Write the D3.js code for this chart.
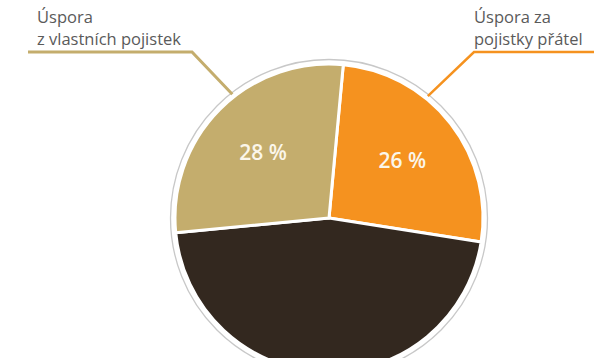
<!DOCTYPE html>
<html>
<head>
<meta charset="utf-8">
<script src="https://cdn.jsdelivr.net/npm/d3@7/dist/d3.min.js"></script>
<style>
  html, body { margin: 0; padding: 0; background: #fff; }
  svg { display: block; }
</style>
</head>
<body>
<svg id="chart" width="594" height="358"></svg>
<script>
// Slice data, clockwise from the orange slice near the top
const categories = ["Úspora za pojistky přátel", "Ostatní", "Úspora z vlastních pojistek"];
const values = [26, 46, 28];
const valueLabels = ["26 %", "", "28 %"];
const colors = ["#f5921f", "#33281f", "#c4ad6d"];
// Callout text lines for the labelled slices
const calloutLeft = ["Úspora", "z vlastních pojistek"];
const calloutRight = ["Úspora za", "pojistky přátel"];

const svg = d3.select("#chart");
const cx = 329, cy = 218, r = 154;
const startAngle = 0.093;

const pie = d3.pie().sort(null).value(d => d)
  .startAngle(startAngle).endAngle(startAngle + 2 * Math.PI);
const arcs = pie(values);
const arc = d3.arc().innerRadius(0).outerRadius(r);
const labelArc = d3.arc().innerRadius(93).outerRadius(93);

const g = svg.append("g").attr("transform", `translate(${cx},${cy})`);

// thin grey rim around the pie
g.append("circle").attr("r", r + 4.5)
  .attr("fill", "none").attr("stroke", "#c8c8c8").attr("stroke-width", 1.3);

g.selectAll("path.slice").data(arcs).join("path")
  .attr("class", "slice")
  .attr("d", arc)
  .attr("fill", (d, i) => colors[i])
  .attr("stroke", "#fff")
  .attr("stroke-width", 3)
  .attr("stroke-linejoin", "round");

g.selectAll("text.val").data(arcs).join("text")
  .attr("class", "val")
  .attr("transform", d => `translate(${labelArc.centroid(d)})`)
  .attr("text-anchor", "middle")
  .attr("dy", "0.36em")
  .attr("font-family", "'Open Sans', sans-serif")
  .attr("font-size", 21)
  .attr("font-weight", 600)
  .attr("fill", "#fbf6ea")
  .text((d, i) => valueLabels[i]);

// leader lines from the rim to the callout texts
function rimPoint(angle, rad) {
  return [cx + rad * Math.sin(angle), cy - rad * Math.cos(angle)];
}
const leftRim = rimPoint(arcs[2].startAngle + (arcs[2].endAngle - arcs[2].startAngle) * 0.57, r + 3);
const rightRim = rimPoint(arcs[0].startAngle + (arcs[0].endAngle - arcs[0].startAngle) * 0.36, r + 3);

const line = d3.line();
svg.append("path")
  .attr("d", line([[28, 52], [192, 52], leftRim]))
  .attr("fill", "none").attr("stroke", colors[2]).attr("stroke-width", 3);
svg.append("path")
  .attr("d", line([[594, 52], [474, 52], rightRim]))
  .attr("fill", "none").attr("stroke", colors[0]).attr("stroke-width", 2.5);

function callout(lines, x, y0) {
  const t = svg.append("text")
    .attr("font-family", "'Open Sans', sans-serif")
    .attr("font-size", 16.5)
    .attr("fill", "#5a5a5a");
  lines.forEach((s, i) => {
    t.append("tspan").attr("x", x).attr("y", y0 + i * 22).text(s);
  });
}
callout(calloutLeft, 37, 23);
callout(calloutRight, 474, 23);
</script>
</body>
</html>
